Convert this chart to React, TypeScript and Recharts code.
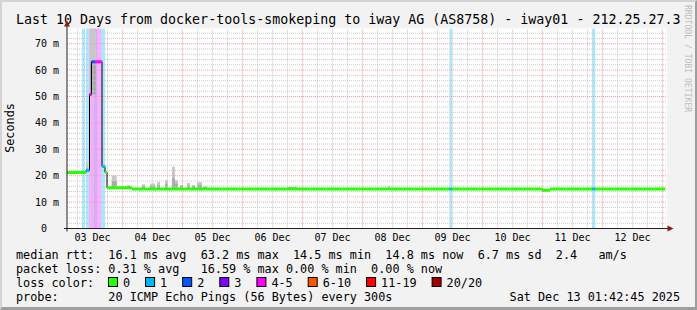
import React from "react";
import { ComposedChart, CartesianGrid, XAxis, YAxis, Line, Area, ReferenceArea, ReferenceLine } from "recharts";

const MONO = "'DejaVu Sans Mono', 'Liberation Mono', monospace";

// time axis: hours since graph start (03 Dec 01:42:45), 10 days shown
const hoursShown = 240;
const firstMidnight = 22.2; // 04 Dec 00:00
const dayLabels = ["03 Dec", "04 Dec", "05 Dec", "06 Dec", "07 Dec", "08 Dec", "09 Dec", "10 Dec", "11 Dec", "12 Dec"];
const yMax = 75.76;
const yTicks = [0, 10, 20, 30, 40, 50, 60, 70];

const lossLabels = ["0", "1", "2", "3", "4-5", "6-10", "11-19", "20/20"];
const lossColors = ["#26ff00", "#00b8ff", "#0059ff", "#7e00ff", "#ff00ff", "#ff5500", "#ff0000", "#a10000"];

// median rtt (ms), stepwise: segment start hour, value, loss class
const medStart = [0, 7.6, 9.0, 9.8, 11.2, 14.0, 15.2, 16.0, 26.0, 153.0, 154.0, 190.0, 193.2, 210.0, 211.2];
const medValue = [21.2, 22.0, 50.8, 63.2, 63.2, 23.5, 21.3, 15.4, 15.0, 15.0, 15.0, 14.5, 15.0, 15.0, 15.0];
const medLoss = [0, 1, 4, 2, 4, 1, 0, 0, 0, 1, 0, 0, 0, 1, 0];
const medLastHour = 239.2;

// packet loss bands
const bandStart = [6.0, 7.6, 8.8, 10.8, 12.0, 13.6, 153.0, 210.0];
const bandEnd = [7.2, 8.8, 10.8, 12.0, 13.6, 15.2, 154.0, 211.2];
const bandLoss = [1, 1, 4, 3, 4, 1, 1, 1];

// smoke (ping spread above the median)
const smokeStart = [7.6, 9.2, 17.9, 24.0, 30.0, 33.2, 36.0, 39.2, 42.0, 43.2, 45.2, 48.0, 50.0, 52.0, 54.4, 88.0, 128.4];
const smokeEnd = [8.4, 11.6, 19.9, 25.2, 31.2, 35.2, 37.2, 40.4, 43.2, 44.4, 46.4, 49.2, 51.2, 54.0, 56.0, 92.0, 129.2];
const smokeTop = [25, 90, 20.1, 16.5, 16.8, 17.0, 17.6, 18.4, 23.4, 18.4, 16.5, 17.2, 16.5, 17.6, 16.0, 15.8, 16.0];
const smokeCore = [23, 63.2, 18.0, 16.0, 16.0, 16.2, 16.5, 17.0, 19.0, 17.0, 16.0, 16.3, 16.0, 16.5, 15.6, 15.5, 15.6];

const medianSegments = medStart.map((s, i) => ({
  s,
  e: i < medStart.length - 1 ? medStart[i + 1] : medLastHour,
  v: medValue[i],
  loss: medLoss[i],
}));
const medianPath = medianSegments.flatMap((seg) => [
  { h: seg.s, ms: seg.v },
  { h: seg.e, ms: seg.v },
]);
const medianAt = (h: number) => {
  let v = medValue[0];
  medStart.forEach((s, i) => {
    if (s <= h) v = medValue[i];
  });
  return v;
};

const labelHours = dayLabels.map((_, i) => firstMidnight - 12 + 24 * i);
const majorX = dayLabels.map((_, i) => firstMidnight + 24 * i).filter((h) => h < hoursShown);
const minorX: number[] = [];
for (let k = 0; k < 41; k++) {
  const h = firstMidnight - 18 + 6 * k;
  if (h > 0 && h < hoursShown && k % 4 !== 3) minorX.push(h);
}
const minorY: number[] = [];
for (let v = 2; v < yMax; v += 2) if (v % 10 !== 0) minorY.push(v);
const majorY = yTicks.filter((v) => v > 0);

const medianStats = "median rtt:  16.1 ms avg  63.2 ms max  14.5 ms min  14.8 ms now  6.7 ms sd  2.4   am/s";
const lossStats = "packet loss: 0.31 % avg   16.59 % max 0.00 % min  0.00 % now";
const probeText = "probe:       20 ICMP Echo Pings (56 Bytes) every 300s";
const stamp = "Sat Dec 13 01:42:45 2025";

const YTick = (props: any) => {
  const { x, y, payload } = props;
  const v = payload.value;
  return (
    <text x={v === 0 ? x - 12 : x} y={y + 3.5} textAnchor="end" fontSize={10} fontFamily={MONO} fill="#000">
      {v === 0 ? "0" : `${v} m`}
    </text>
  );
};

const XTick = (props: any) => {
  const { x, y, index } = props;
  return (
    <text x={x} y={y + 4.5} textAnchor="middle" fontSize={10} fontFamily={MONO} fill="#000">
      {dayLabels[index]}
    </text>
  );
};

export default function App() {
  const boxX: number[] = [];
  let bx = 108.5;
  lossLabels.forEach((l) => {
    boxX.push(bx);
    bx += 30 + 7.1 * l.length;
  });

  return (
    <div
      style={{
        position: "absolute",
        left: 0,
        top: 0,
        width: 697,
        height: 310,
        boxSizing: "border-box",
        background: "#f2f2f2",
        borderTop: "2px solid #d4d4d4",
        borderLeft: "2px solid #d4d4d4",
        borderRight: "2px solid #9e9e9e",
        borderBottom: "3px solid #9e9e9e",
      }}
    >
      <div style={{ position: "absolute", left: -2, top: -2 }}>
        <ComposedChart width={697} height={310} margin={{ top: 28.5, right: 30, bottom: 61.5, left: 7 }}>
          <CartesianGrid fill="#ffffff" horizontal={false} vertical={false} />
          <XAxis
            dataKey="h"
            type="number"
            domain={[0, hoursShown]}
            ticks={labelHours}
            interval={0}
            tick={<XTick />}
            axisLine={false}
            tickLine={false}
            height={20}
            allowDataOverflow
          />
          <YAxis
            type="number"
            domain={[0, yMax]}
            ticks={yTicks}
            interval={0}
            tick={<YTick />}
            axisLine={false}
            tickLine={false}
            width={60}
            allowDataOverflow
          />
          {bandStart.map((s, i) => (
            <ReferenceArea key={`b${i}`} x1={s} x2={bandEnd[i]} fill={lossColors[bandLoss[i]]} fillOpacity={0.33} stroke="none" ifOverflow="hidden" />
          ))}
          {smokeStart.map((s, i) => (
            <Area
              key={`s${i}`}
              data={[
                { h: s, r: [medianAt(s) - 0.3, smokeTop[i]] },
                { h: smokeEnd[i], r: [medianAt(s) - 0.3, smokeTop[i]] },
              ]}
              dataKey="r"
              type="linear"
              stroke="none"
              fill="#c8c8c8"
              fillOpacity={1}
              isAnimationActive={false}
              dot={false}
              activeDot={false}
            />
          ))}
          {smokeStart.map((s, i) => (
            <Area
              key={`c${i}`}
              data={[
                { h: s, r: [medianAt(s), smokeCore[i]] },
                { h: smokeEnd[i], r: [medianAt(s), smokeCore[i]] },
              ]}
              dataKey="r"
              type="linear"
              stroke="none"
              fill="#a9a9a9"
              fillOpacity={1}
              isAnimationActive={false}
              dot={false}
              activeDot={false}
            />
          ))}
          {minorX.map((h) => (
            <ReferenceLine key={`mx${h}`} x={h} stroke="#c6c6c6" strokeDasharray="1 1" />
          ))}
          {minorY.map((v) => (
            <ReferenceLine key={`my${v}`} y={v} stroke="#cacaca" strokeDasharray="1 1" />
          ))}
          {majorX.map((h) => (
            <ReferenceLine key={`Mx${h}`} x={h} stroke="#ef9a9a" strokeDasharray="1 1" />
          ))}
          {majorY.map((v) => (
            <ReferenceLine key={`My${v}`} y={v} stroke="#f0a0a0" strokeDasharray="1 1" />
          ))}
          <Line data={medianPath} dataKey="ms" type="linear" stroke="#000" strokeWidth={1} dot={false} activeDot={false} isAnimationActive={false} />
          {medianSegments.map((seg, i) => (
            <Line
              key={`m${i}`}
              data={[
                { h: seg.s, ms: seg.v },
                { h: seg.e, ms: seg.v },
              ]}
              dataKey="ms"
              type="linear"
              stroke={lossColors[seg.loss]}
              strokeWidth={3}
              dot={false}
              activeDot={false}
              isAnimationActive={false}
            />
          ))}
        </ComposedChart>
      </div>
      <svg width={697} height={310} style={{ position: "absolute", left: -2, top: -2, pointerEvents: "none" }} fontFamily={MONO}>
        <text x={16} y={24} fontSize={13.3} fill="#000">
          Last 10 Days from docker-tools-smokeping to iway AG (AS8758) - iway01 - 212.25.27.3
        </text>
        <text transform="translate(685,5) rotate(90)" fontSize={8.1} fill="#bdbdbd">
          RRDTOOL / TOBI OETIKER
        </text>
        <text transform="translate(14,128) rotate(-90)" textAnchor="middle" fontSize={11.8} fill="#000">
          Seconds
        </text>
        <line x1={67} y1={231.5} x2={67} y2={26} stroke="#202020" strokeWidth={1} />
        <polygon points="64,26.5 70,26.5 67,20.5" fill="#8b1a1a" />
        <line x1={64} y1={228.5} x2={668} y2={228.5} stroke="#202020" strokeWidth={1} />
        <polygon points="667.5,225.5 667.5,231.5 673.5,228.5" fill="#8b1a1a" />
        <text x={16} y={258.5} fontSize={11.8} fill="#000" style={{ whiteSpace: "pre" }}>
          {medianStats}
        </text>
        <text x={16} y={272.5} fontSize={11.8} fill="#000" style={{ whiteSpace: "pre" }}>
          {lossStats}
        </text>
        <text x={16} y={286.5} fontSize={11.8} fill="#000" style={{ whiteSpace: "pre" }}>
          loss color:
        </text>
        {lossLabels.map((l, i) => (
          <g key={l}>
            <rect x={boxX[i]} y={277.5} width={9} height={9} fill={lossColors[i]} stroke="#000" strokeWidth={1} />
            <text x={boxX[i] + 14.5} y={286.5} fontSize={11.8} fill="#000">
              {l}
            </text>
          </g>
        ))}
        <text x={16} y={300.5} fontSize={11.8} fill="#000" style={{ whiteSpace: "pre" }}>
          {probeText}
        </text>
        <text x={509.6} y={300.5} fontSize={11.8} fill="#000">
          {stamp}
        </text>
      </svg>
    </div>
  );
}
